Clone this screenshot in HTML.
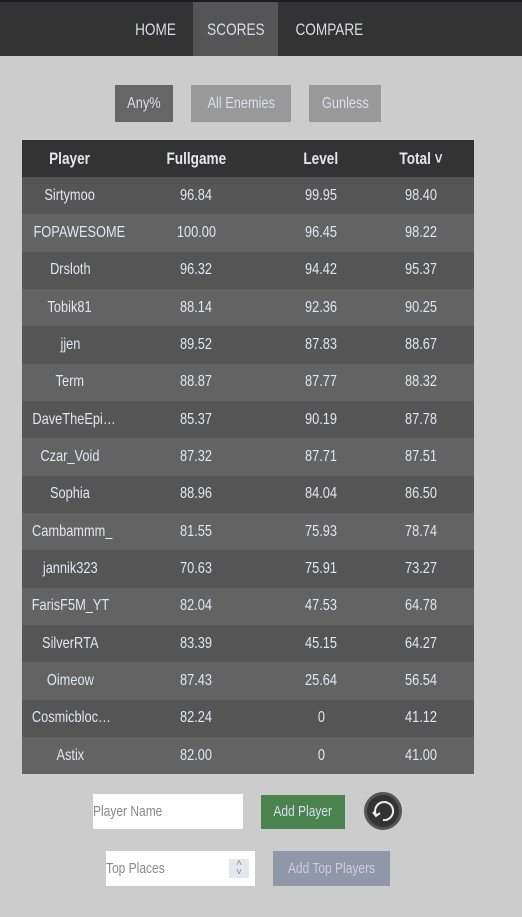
<!DOCTYPE html>
<html><head><meta charset="utf-8"><style>
*{box-sizing:border-box;margin:0;padding:0}
body{width:522px;height:917px;background:#ccc;font-family:"Liberation Sans Narrow","Liberation Sans",sans-serif;overflow:hidden;position:relative}
.s{display:inline-block;transform:scaleX(0.8)}
.nav{position:absolute;left:0;top:0;width:522px;height:56px;background:#333;border-top:2px solid #1a1a22}
.tab{position:absolute;top:0;height:54px;line-height:56px;color:#d8dde5;font-size:17px;text-align:center}
.mode{position:absolute;top:85px;height:37px;line-height:37px;color:#dde;font-size:16px;text-align:center}
table{position:absolute;left:22px;top:140px;width:452px;border-collapse:collapse;color:#e2e6ee;font-size:16px;table-layout:fixed}
th{height:37px;background:#333;font-weight:bold;font-size:17px;white-space:nowrap}
td{height:37.33px;text-align:center;white-space:nowrap}
tr.o td{background:#555}tr.e td{background:#636363}
.btn{position:absolute;font-size:15px;text-align:center}
</style></head><body>
<div class="nav">
<div class="tab" style="left:120px;width:70px"><span class="s">HOME</span></div>
<div class="tab" style="left:193px;width:85px;background:#555"><span class="s">SCORES</span></div>
<div class="tab" style="left:282px;width:95px"><span class="s">COMPARE</span></div>
</div>
<div class="mode" style="left:115px;width:58px;background:#666"><span class="s">Any%</span></div>
<div class="mode" style="left:191px;width:100px;background:#999"><span class="s">All Enemies</span></div>
<div class="mode" style="left:309px;width:72px;background:#999"><span class="s">Gunless</span></div>
<table><colgroup><col style="width:96px"><col style="width:156px"><col style="width:94px"><col></colgroup><thead><tr>
<th><span class="s">Player</span></th>
<th><span class="s">Fullgame</span></th>
<th><span class="s">Level</span></th>
<th><span class="s">Total ˅</span></th></tr></thead><tbody id="tb"></tbody></table>
<div class="btn" style="left:93px;top:794px;width:150px;height:35px;background:#fff;color:#888;text-align:left;padding-left:0px;line-height:35px"><span class="s" style="transform-origin:left">Player Name</span></div>
<div class="btn" style="left:261px;top:795px;width:84px;height:34px;line-height:34px;background:#4a834e;color:#dde"><span class="s">Add Player</span></div>
<div class="btn" style="left:364px;top:792px;width:38px;height:38px;border-radius:50%;background:#333;border:3px solid #555"><svg width="32" height="32" viewBox="0 0 32 32"><path d="M9 20 A9 9 0 1 1 16 25" fill="none" stroke="#eee" stroke-width="2"/><path d="M6 17 L9 21 L13 18" fill="none" stroke="#eee" stroke-width="2"/></svg></div>
<div class="btn" style="left:106px;top:851px;width:149px;height:35px;background:#fff;color:#888;text-align:left;padding-left:0px;line-height:35px"><span class="s" style="transform-origin:left">Top Places</span><span style="position:absolute;right:6px;top:8px;width:20px;height:19px;background:#e6e6ee;font-size:10px;line-height:9px;color:#888;text-align:center">˄<br>˅</span></div>
<div class="btn" style="left:273px;top:851px;width:117px;height:35px;line-height:35px;background:#8e98a8;color:#ccd"><span class="s">Add Top Players</span></div>
<script>
const players=["Sirtymoo","FOPAWESOME","Drsloth","Tobik81","jjen","Term","DaveTheEpi…","Czar_Void","Sophia","Cambammm_","jannik323","FarisF5M_YT","SilverRTA","Oimeow","Cosmicbloc…","Astix"];
const fullgame=["96.84","100.00","96.32","88.14","89.52","88.87","85.37","87.32","88.96","81.55","70.63","82.04","83.39","87.43","82.24","82.00"];
const level=["99.95","96.45","94.42","92.36","87.83","87.77","90.19","87.71","84.04","75.93","75.91","47.53","45.15","25.64","0","0"];
const total=["98.40","98.22","95.37","90.25","88.67","88.32","87.78","87.51","86.50","78.74","73.27","64.78","64.27","56.54","41.12","41.00"];
const tb=document.getElementById('tb');
players.forEach((p,i)=>{
const tr=document.createElement('tr');
tr.className=i%2?'e':'o';


[p,fullgame[i],level[i],total[i]].forEach(v=>{const td=document.createElement('td');
const sp=document.createElement('span');sp.className='s';sp.textContent=v;td.appendChild(sp);


tr.appendChild(td);});
tb.appendChild(tr);});
</script>
</body></html>
